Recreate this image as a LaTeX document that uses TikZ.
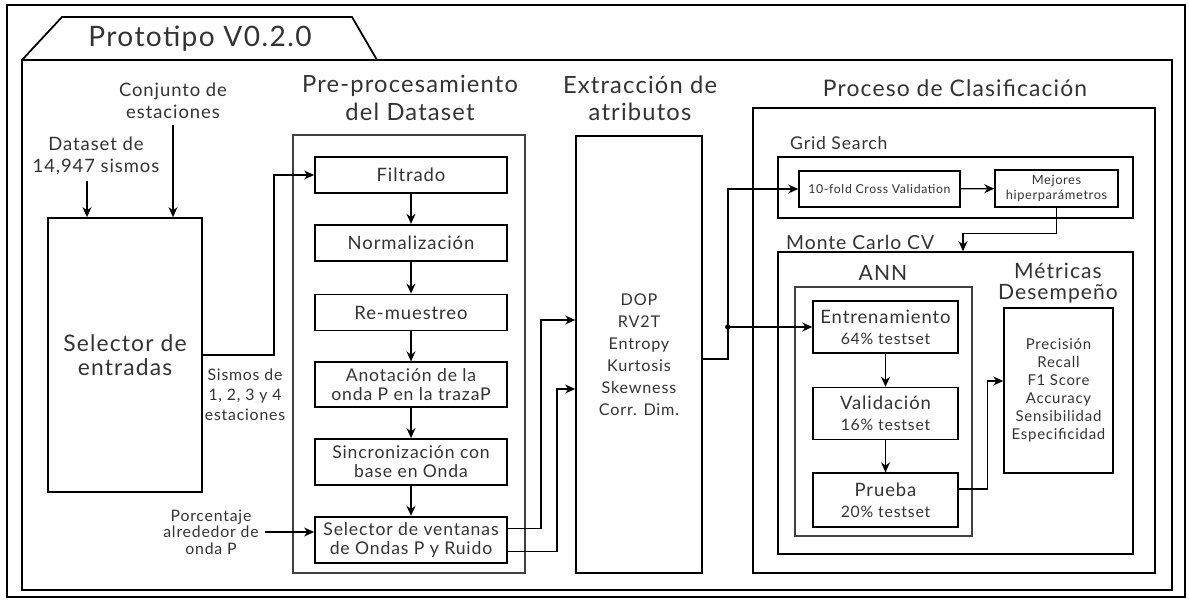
\documentclass[tikz,border=0pt]{standalone}
\usepackage{fontspec}
\setmainfont{Lato}[LetterSpace=5]
\usepackage{tikz}
\usetikzlibrary{arrows.meta,positioning,fit}

\begin{document}
\begin{tikzpicture}[
    x=0.02cm, y=-0.02cm,
    every node/.style={text=black!80},
    stepbox/.style={
        rectangle,
        draw=black,
        line width=1pt,
        minimum width=3.84cm,
        minimum height=0.72cm,
        inner sep=1pt,
        align=center,
        font=\fontsize{10.5}{12}\selectfont
    },
    annbox/.style={
        rectangle,
        draw=black,
        line width=0.9pt,
        minimum width=2.9cm,
        minimum height=1.04cm,
        inner sep=1pt,
        align=center,
        font=\fontsize{10.5}{12}\selectfont
    },
    gridbox/.style={
        rectangle,
        draw=black,
        line width=0.9pt,
        minimum height=0.72cm,
        inner sep=1pt,
        align=center,
        font=\fontsize{7.3}{8.5}\selectfont
    },
    frame/.style={rectangle, draw=black, line width=1pt, inner sep=0pt},
    thinframe/.style={frame, draw=black!75, line width=0.6pt},
    title/.style={font=\fontsize{13.5}{15.5}\selectfont, align=center},
    note/.style={font=\fontsize{9}{11.3}\selectfont, align=center},
    arrow/.style={-{Stealth[length=2mm,width=1.8mm]}, line width=0.8pt}
]
\useasboundingbox (0,0) rectangle (1189,601);

% =========================================
% Frames
% =========================================
\node[frame, line width=1.2pt, fit={(7,5) (1185,597)}] (outer) {};
\node[frame, fit={(22,60) (1172,590)}] (inner) {};
\draw[line width=1pt] (22,60) -- (62,17) -- (352,17) -- (377,60);
\node[font=\fontsize{16}{18}\selectfont] (tab) at (200,39) {Prototipo V0.2.0};

% =========================================
% Inputs
% =========================================
\node[font=\fontsize{10.5}{12.5}\selectfont, align=center] (conj) at (173,101) {Conjunto de\\estaciones};
\node[font=\fontsize{10.5}{12.5}\selectfont, align=center] (data) at (96,156) {Dataset de\\14,947 sismos};

\node[frame, minimum width=3.08cm, minimum height=5.48cm, align=center,
      font=\fontsize{13}{14}\selectfont] (sel) at (125,355) {Selector de\\entradas};

\node[note] (sismos) at (245,395) {Sismos de\\1, 2, 3 y 4\\estaciones};
\node[note, font=\fontsize{9}{9.5}\selectfont] (pct) at (211,532) {Porcentaje\\alrededor de\\onda P};

% =========================================
% Pre-procesamiento
% =========================================
\node[title] (pretitle) at (410,98) {Pre-procesamiento\\del Dataset};
\node[thinframe, fit={(293,135) (525,573)}] (pre) {};

\node[stepbox] (filt) at (411,175) {Filtrado};
\node[stepbox, below=0.6cm of filt] (norm) {Normalización};
\node[stepbox, below=0.64cm of norm] (remu) {Re-muestreo};
\node[stepbox, below=0.6cm of remu, minimum height=0.9cm,
      font=\fontsize{10}{11}\selectfont] (anot) {Anotación de la\\onda P en la trazaP};
\node[stepbox, below=0.6cm of anot, minimum height=0.92cm,
      font=\fontsize{10}{11}\selectfont] (sinc) {Sincronización con\\base en Onda};
\node[stepbox, below=0.6cm of sinc, minimum height=0.92cm,
      font=\fontsize{10}{11}\selectfont] (win) {Selector de ventanas\\de Ondas P y Ruido};

% =========================================
% Extraccion de atributos
% =========================================
\node[title] (exttitle) at (640,98) {Extracción de\\atributos};
\node[frame, minimum width=2.52cm, minimum height=8.74cm, align=center,
      font=\fontsize{9.2}{12.5}\selectfont] (ext) at (639,354.5)
      {DOP\\RV2T\\Entropy\\Kurtosis\\Skewness\\Corr. Dim.};

% =========================================
% Proceso de Clasificacion
% =========================================
\node[title, font=\fontsize{13}{15}\selectfont] (clstitle) at (955,88) {Proceso de Clasificación};
\node[frame, fit={(753,108) (1155,573)}] (cls) {};

% Grid search
\node[font=\fontsize{10}{12}\selectfont, anchor=west] (gridtitle) at (784,143) {Grid Search};
\node[frame, line width=0.9pt, fit={(778,157) (1133,218)}] (grid) {};
\node[gridbox, minimum width=3.22cm, font=\fontsize{7}{8}\selectfont] (cv) at (879.5,189) {10-fold Cross Validation};
\node[gridbox, minimum width=2.46cm, minimum height=0.74cm] (mej) at (1056.5,188.5) {Mejores\\hiperparámetros};

% Monte Carlo
\node[font=\fontsize{11}{12}\selectfont, anchor=west] (mctitle) at (780,242) {Monte Carlo CV};
\node[frame, line width=0.9pt, fit={(778,252) (1133,554)}] (mc) {};

\node[font=\fontsize{12}{13}\selectfont] (anntitle) at (883,273) {ANN};
\node[thinframe, fit={(795,287) (972,536)}] (ann) {};

\node[annbox] (ent) at (885.5,327) {Entrenamiento\\{\fontsize{9}{11}\selectfont 64\% testset}};
\node[annbox, below=0.66cm of ent] (val) {Validación\\{\fontsize{9}{11}\selectfont 16\% testset}};
\node[annbox, below=0.64cm of val, minimum height=1.08cm] (pru) {Prueba\\{\fontsize{9}{11}\selectfont 20\% testset}};

\node[title, font=\fontsize{12}{12}\selectfont] (mettitle) at (1058,283) {Métricas\\Desempeño};
\node[frame, line width=0.9pt, minimum width=2.18cm, minimum height=3.3cm, align=center,
      font=\fontsize{8.5}{10.2}\selectfont] (met) at (1058.5,390.5)
      {Precisión\\Recall\\F1 Score\\Accuracy\\Sensibilidad\\Especificidad};

% =========================================
% Arrows
% =========================================
\draw[arrow] ([xshift=-0.18cm]data.south) -- ([xshift=-0.18cm]data.south |- sel.north);
\draw[arrow] (conj.south) -- (conj.south |- sel.north);
\draw[arrow] (sel.east) -- ++(71,0) |- (filt.west);
\draw[arrow] (pct.east) -- (pct.east -| win.west);

% pre-processing chain
\draw[arrow] (filt) -- (norm);
\draw[arrow] (norm) -- (remu);
\draw[arrow] (remu) -- (anot);
\draw[arrow] (anot) -- (sinc);
\draw[arrow] (sinc) -- (win);

% windows to features
\draw[arrow] ([yshift=0.22cm]win.east) -- ++(33,0) |- ([yshift=0.69cm]ext.west);
\draw[arrow] ([yshift=-0.24cm]win.east) -- ++(49,0) |- ([yshift=-0.69cm]ext.west);

% features to classification
\coordinate (jx) at ([xshift=0.5cm]ext.east);
\coordinate (jn) at (jx |- ent.west);
\draw[line width=0.8pt] ([yshift=-0.09cm]ext.east) -| (jn);
\draw[arrow] (jn) |- (cv.west);
\draw[arrow] (jn) -- (ent.west);
\fill (jn) circle (1.6pt);

\draw[arrow] (cv) -- (mej);
\draw[arrow] (mej.south) -- ++(0,26) -| ([xshift=0.15cm]mc.north);

% ANN chain
\draw[arrow] (ent) -- (val);
\draw[arrow] (val) -- (pru);
\draw[arrow] ([yshift=0.22cm]pru.east) -- ++(29,0) |- ([yshift=0.19cm]met.west);

\end{tikzpicture}
\end{document}
